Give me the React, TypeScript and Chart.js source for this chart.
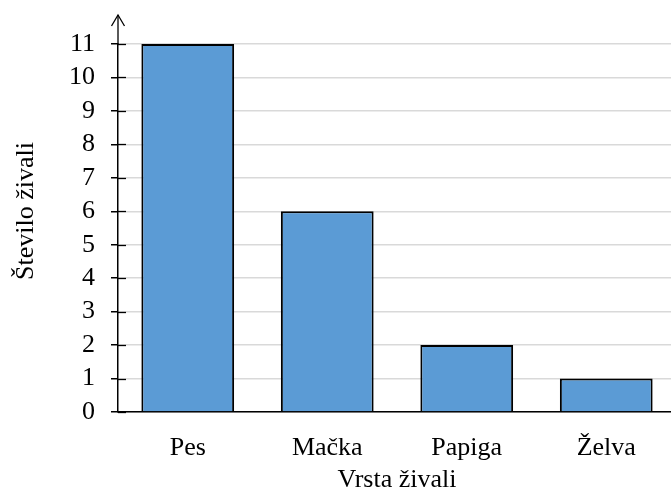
import React, { useEffect, useRef } from "react";
import { Chart, registerables } from "chart.js";

Chart.register(...registerables);

const categories = ["Pes", "Mačka", "Papiga", "Želva"];
const values = [11, 6, 2, 1];
const yTitle = "Število živali";
const xTitle = "Vrsta živali";

const FONT = "'Liberation Serif', 'Times New Roman', serif";
const FS = 26;

const axisDecor = {
  id: "axisDecor",
  afterDraw(chart: any) {
    const { ctx, chartArea, scales } = chart;
    const y = scales.y;
    const x0 = chartArea.left;
    ctx.save();
    ctx.strokeStyle = "#000";
    ctx.lineWidth = 1.3;
    // inner tick parts
    y.ticks.forEach((t: any) => {
      const py = Math.round(y.getPixelForValue(t.value)) + 0.5;
      ctx.beginPath();
      ctx.moveTo(x0, py);
      ctx.lineTo(x0 + 8, py);
      ctx.stroke();
    });
    // arrow
    const tipY = chartArea.top - 29;
    ctx.beginPath();
    ctx.moveTo(x0, chartArea.top);
    ctx.lineTo(x0, tipY);
    ctx.stroke();
    ctx.beginPath();
    ctx.moveTo(x0 - 6.5, tipY + 11);
    ctx.lineTo(x0, tipY);
    ctx.lineTo(x0 + 6.5, tipY + 11);
    ctx.stroke();
    // y title
    ctx.fillStyle = "#000";
    ctx.font = `${FS}px ${FONT}`;
    ctx.textAlign = "center";
    ctx.textBaseline = "middle";
    ctx.translate(26, 211);
    ctx.rotate(-Math.PI / 2);
    ctx.fillText(yTitle, 0, 0);
    ctx.restore();
  },
};

export default function App() {
  const ref = useRef<HTMLCanvasElement>(null);
  useEffect(() => {
    document.body.style.margin = "0";
    const chart = new Chart(ref.current!, {
      type: "bar",
      data: {
        labels: categories,
        datasets: [
          {
            data: values,
            backgroundColor: "#5B9BD5",
            borderColor: "#000",
            borderWidth: 2,
            categoryPercentage: 1,
            barPercentage: 0.665,
          },
        ],
      },
      options: {
        animation: false,
        responsive: false,
        devicePixelRatio: 1,
        layout: { padding: { top: 44, right: 0, left: 0, bottom: 0 } },
        plugins: { legend: { display: false }, tooltip: { enabled: false } },
        scales: {
          x: {
            grid: { display: false },
            border: { color: "#000", width: 1.5 },
            ticks: { color: "#000", font: { family: FONT, size: FS }, padding: 13 },
            title: {
              display: true,
              text: xTitle,
              color: "#000",
              font: { family: FONT, size: FS },
              padding: { top: 0, bottom: 0 },
            },
            afterFit: (s: any) => {
              s.height = 84;
            },
          },
          y: {
            min: 0,
            max: 11,
            ticks: {
              stepSize: 1,
              autoSkip: false,
              color: "#000",
              font: { family: FONT, size: FS },
              padding: 16,
            },
            grid: { color: "#d9d9d9", lineWidth: 1.5, tickColor: "#000", tickLength: 7 },
            border: { color: "#000", width: 1.5 },
            afterFit: (s: any) => {
              s.width = 118;
            },
          },
        },
      },
      plugins: [axisDecor],
    });
    return () => chart.destroy();
  }, []);
  return (
    <div style={{ width: 671, height: 496, overflow: "hidden" }}>
      <canvas ref={ref} width={676} height={496} style={{ display: "block" }} />
    </div>
  );
}
